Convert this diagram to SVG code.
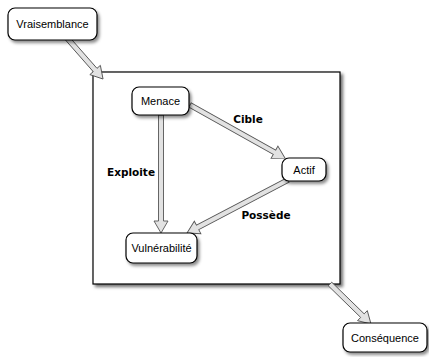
<svg xmlns="http://www.w3.org/2000/svg" width="429" height="357" viewBox="0 0 429 357">
<defs>
<filter id="sh" x="-20%" y="-20%" width="140%" height="150%">
<feDropShadow dx="2" dy="2.5" stdDeviation="1.5" flood-color="#000" flood-opacity="0.45"/>
</filter>
<filter id="sh2" x="-10%" y="-10%" width="120%" height="120%">
<feDropShadow dx="2.5" dy="2.5" stdDeviation="1.8" flood-color="#000" flood-opacity="0.55"/>
</filter>
</defs>
<style>
.node{fill:#fff;stroke:#000;stroke-width:1.2;filter:url(#sh)}
.t{font-family:"Liberation Sans",Arial,sans-serif;font-size:11px;fill:#000;text-anchor:middle}
.lbl{font-family:"DejaVu Sans","Liberation Sans",sans-serif;font-size:10.5px;font-weight:bold;fill:#000;text-anchor:middle}
.arr{fill:#e2e2e2;stroke:#555;stroke-width:0.9;stroke-linejoin:miter}
</style>
<rect width="429" height="357" fill="#fff"/>
<g id="cadre">
<rect x="93" y="72" width="247" height="212" fill="#fff" stroke="#000" stroke-width="1.2" filter="url(#sh2)"/>
</g>
<g id="connectors">
<g transform="translate(67,38) rotate(48.7)"><polygon class="arr" points="0,-2.5 42.6,-2.5 42.6,-7 54.6,0 42.6,7 42.6,2.5 0,2.5"/></g>
<g transform="translate(190,105) rotate(29.2)"><polygon class="arr" points="0,-2.5 96.8,-2.5 96.8,-7 108.8,0 96.8,7 96.8,2.5 0,2.5"/></g>
<g transform="translate(161,115) rotate(90)"><polygon class="arr" points="0,-2.5 106,-2.5 106,-7 118,0 106,7 106,2.5 0,2.5"/></g>
<g transform="translate(288,180) rotate(152.3)"><polygon class="arr" points="0,-2.5 102.1,-2.5 102.1,-7 114.1,0 102.1,7 102.1,2.5 0,2.5"/></g>
<g transform="translate(330,284) rotate(44.3)"><polygon class="arr" points="0,-2.5 45.3,-2.5 45.3,-7 57.3,0 45.3,7 45.3,2.5 0,2.5"/></g>
<text class="lbl" x="248" y="123">Cible</text>
<text class="lbl" x="131" y="176">Exploite</text>
<text class="lbl" x="266" y="219">Possède</text>
</g>
<g id="vraisemblance">
<rect class="node" x="8" y="8" width="89" height="32" rx="7"/>
<text class="t" x="52.5" y="28">Vraisemblance</text>
</g>
<g id="menace">
<rect class="node" x="132" y="87" width="57" height="28" rx="7"/>
<text class="t" x="160.5" y="105">Menace</text>
</g>
<g id="actif">
<rect class="node" x="282" y="158" width="44" height="23" rx="7"/>
<text class="t" x="304" y="173.5">Actif</text>
</g>
<g id="vulnerabilite">
<rect class="node" x="126" y="233" width="71" height="30" rx="7"/>
<text class="t" x="161.5" y="252">Vulnérabilité</text>
</g>
<g id="consequence">
<rect class="node" x="343" y="323" width="84" height="29" rx="7"/>
<text class="t" x="385" y="341.5">Conséquence</text>
</g>
</svg>
